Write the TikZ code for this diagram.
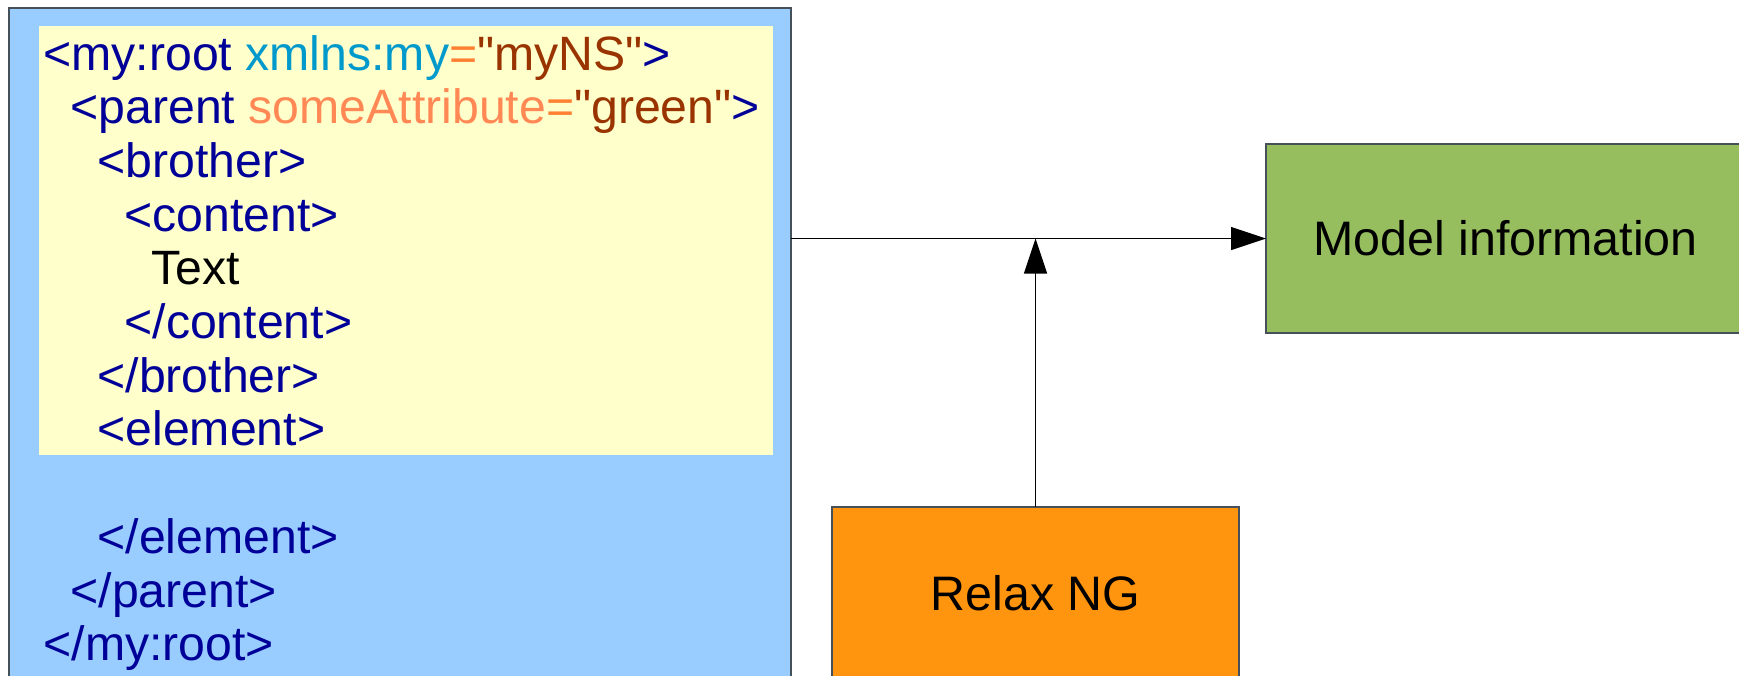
\documentclass[tikz,border=0pt]{standalone}
\usepackage{fontspec}
\setmainfont{Liberation Sans}[Ligatures=TeXOff]
\usetikzlibrary{arrows.meta}
\definecolor{blueback}{RGB}{153,204,255}
\definecolor{yellowback}{RGB}{255,255,204}
\definecolor{tagc}{RGB}{0,0,153}
\definecolor{nsc}{RGB}{0,153,204}
\definecolor{attrc}{RGB}{255,136,85}
\definecolor{eqc}{RGB}{255,128,51}
\definecolor{valc}{RGB}{153,51,0}
\definecolor{greenback}{RGB}{150,190,95}
\definecolor{orangeback}{RGB}{255,149,14}
\definecolor{edgec}{RGB}{70,80,90}
\begin{document}
\begin{tikzpicture}[x=1pt,y=-1pt,
  panel/.style={draw=edgec, line width=1.2pt, inner sep=0pt, outer sep=0pt, anchor=north west},
  codeline/.style={anchor=base west, inner sep=0pt, outer sep=0pt, text=tagc, font=\fontsize{48.2}{54}\selectfont},
  boxlabel/.style={font=\fontsize{48.4}{54}\selectfont, text=black, align=center},
  conn/.style={line width=1.2pt, draw=black, -{Triangle[length=35pt,width=23pt]}}]
\useasboundingbox (0,0) rectangle (1739,675);
\fill[white] (0,0) rectangle (1739,675);
% panels
\node[panel, fill=blueback, minimum width=782pt, minimum height=690pt] (xml) at (9,8) {};
\node[panel, draw=none, fill=yellowback, minimum width=734pt, minimum height=429pt] (code) at (39,26) {};
\node[panel, fill=greenback, minimum width=479pt, minimum height=189pt, boxlabel] (model) at (1266,144) {Model information};
\node[panel, fill=orangeback, minimum width=407pt, minimum height=173pt, boxlabel] (relax) at (832,507) {Relax NG};
% code lines
\node[codeline] (l1) at (43.5,70) {<my:root \textcolor{nsc}{xmlns:my}\textcolor{eqc}{=}\textcolor{valc}{"myNS"}>};
\node[codeline] (l2) at (70.5,123.7) {<parent \textcolor{attrc}{someAttribute}\textcolor{eqc}{=}\textcolor{valc}{"green"}>};
\node[codeline] (l3) at (97.5,177.4) {<brother>};
\node[codeline] (l4) at (124.5,231.1) {<content>};
\node[codeline, text=black] (l5) at (151.5,284.8) {Text};
\node[codeline] (l6) at (124.5,338.5) {</content>};
\node[codeline] (l7) at (97.5,392.2) {</brother>};
\node[codeline] (l8) at (97.5,445.9) {<element>};
\node[codeline] (l10) at (97.5,553.3) {</element>};
\node[codeline] (l11) at (70.5,607) {</parent>};
\node[codeline] (l12) at (43.5,660.7) {</my:root>};
% connectors
\coordinate (meet) at (relax.north |- model.west);
\draw[conn] (xml.east |- model.west) -- (model.west);
\draw[conn] (relax.north) -- (meet);
\end{tikzpicture}
\end{document}
